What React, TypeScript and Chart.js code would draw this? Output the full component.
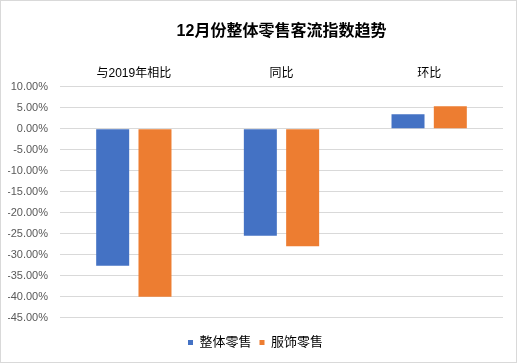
import React, { useEffect, useRef } from "react";
import { Chart, registerables } from "chart.js";

Chart.register(...registerables);

const categories = ["与2019年相比", "同比", "环比"];
const seriesNames = ["整体零售", "服饰零售"];
const overallRetail = [-32.6, -25.5, 3.4];
const apparelRetail = [-40.0, -28.0, 5.3];
const colors = ["#4472C4", "#ED7D31"];
const titleText = "12月份整体零售客流指数趋势";

const FONT = "'Liberation Sans', 'Noto Sans CJK SC', sans-serif";

const centeredTitle = {
  id: "centeredTitle",
  afterDraw(chart: any) {
    const { ctx, chartArea } = chart;
    ctx.save();
    ctx.font = `bold 16px ${FONT}`;
    ctx.fillStyle = "#000000";
    ctx.textAlign = "center";
    ctx.textBaseline = "middle";
    ctx.fillText(titleText, (chartArea.left + chartArea.right) / 2, 31);
    ctx.restore();
  },
};

export default function App() {
  const ref = useRef<HTMLCanvasElement | null>(null);

  useEffect(() => {
    document.body.style.margin = "0";
    if (!ref.current) return;
    const chart = new Chart(ref.current, {
      type: "bar",
      data: {
        labels: categories,
        datasets: [
          {
            label: seriesNames[0],
            data: overallRetail,
            backgroundColor: colors[0],
            categoryPercentage: 0.573,
            barPercentage: 0.78,
          },
          {
            label: seriesNames[1],
            data: apparelRetail,
            backgroundColor: colors[1],
            categoryPercentage: 0.573,
            barPercentage: 0.78,
          },
        ],
      },
      plugins: [centeredTitle],
      options: {
        animation: false,
        responsive: false,
        maintainAspectRatio: false,
        layout: { padding: { left: 7, right: 13, top: 20, bottom: 3 } },
        plugins: {
          title: {
            display: true,
            text: titleText,
            color: "rgba(0,0,0,0)",
            font: { family: FONT, size: 16, weight: "bold" },
            padding: { top: 2, bottom: 18 },
          },
          legend: {
            position: "bottom",
            title: {
              display: true,
              text: "",
              font: { size: 1 },
              padding: { top: 9, bottom: 0 },
            },
            labels: {
              boxWidth: 5,
              boxHeight: 5,
              color: "#000000",
              font: { family: FONT, size: 13 },
              padding: 8,
            },
          },
          tooltip: { enabled: false },
        },
        scales: {
          x: {
            position: "top",
            grid: { display: false, drawTicks: false },
            border: { display: false },
            ticks: {
              color: "#000000",
              font: { family: FONT, size: 12 },
              padding: 6,
            },
          },
          y: {
            min: -45,
            max: 10,
            border: { display: false },
            grid: { color: "#D9D9D9", lineWidth: 1, drawTicks: false },
            afterFit: (s: any) => {
              s.width = 52;
            },
            ticks: {
              stepSize: 5,
              color: "#595959",
              font: { family: FONT, size: 11 },
              padding: 12,
              callback: (v: any) => Number(v).toFixed(2) + "%",
            },
          },
        },
      },
    });
    return () => chart.destroy();
  }, []);

  return (
    <div
      style={{
        width: 517,
        height: 363,
        boxSizing: "border-box",
        border: "1px solid #D9D9D9",
        background: "#fff",
      }}
    >
      <canvas ref={ref} width={515} height={361} style={{ display: "block" }} />
    </div>
  );
}
